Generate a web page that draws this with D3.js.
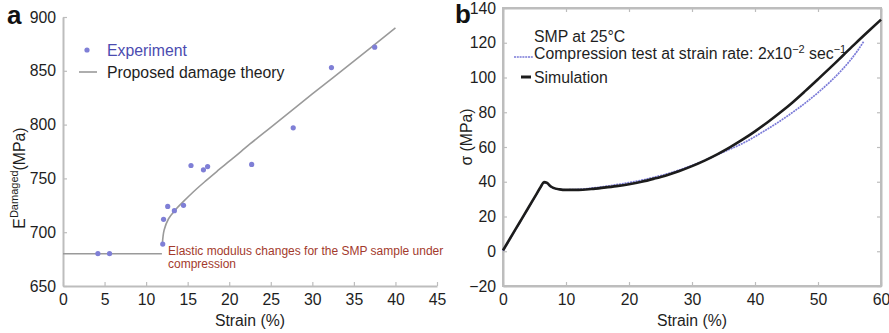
<!DOCTYPE html>
<html>
<head>
<meta charset="utf-8">
<script src="https://cdn.jsdelivr.net/npm/d3@7"></script>
<style>
  html, body { margin: 0; padding: 0; background: #fff; }
  svg { display: block; font-family: "Liberation Sans", Arial, Helvetica, sans-serif; }
</style>
</head>
<body>
<svg id="chart" width="889" height="333"></svg>
<script>
// ---- Panel a: damaged elastic modulus vs strain ----
const expStrain  = [4.2, 5.6, 12.0, 12.1, 12.6, 13.4, 14.5, 15.4, 16.9, 17.4, 22.7, 27.7, 32.3, 37.5];
const expModulus = [680, 680, 689, 712, 724, 720, 725, 762, 758, 761, 763, 797, 853, 872];

// proposed damage theory: flat elastic branch, then the damage branch
const theoryFlatStrain  = [0, 11.9];
const theoryFlatModulus = [680, 680];
const theoryDamageStrain  = [11.96, 12.17, 12.7, 13.5, 14.5, 15.7, 17.1, 18.5, 20.5, 22.5, 25, 30, 35, 40];
const theoryDamageModulus = [689.7, 702, 712.5, 720.6, 728.6, 737.6, 747.2, 756.4, 769, 782, 797.5, 828.5, 859, 890];

const aXTicks = [0, 5, 10, 15, 20, 25, 30, 35, 40, 45];
const aYTicks = [650, 700, 750, 800, 850, 900];

// ---- Panel b: stress-strain response of SMP at 25 °C ----
const simStrain = [0, 1, 2, 3, 4, 5, 6, 6.5, 7, 7.5, 8, 9, 10, 12, 14, 16, 18, 20, 22, 24, 26, 28, 30,
                   32, 34, 36, 38, 40, 42, 44, 46, 48, 50, 52, 54, 56, 58, 60];
const simStress = [0.5, 6.6, 12.7, 18.8, 24.9, 31.0, 37.1, 39.8, 39.3, 37.6, 36.5, 35.6, 35.3, 35.3, 35.8,
                   36.6, 37.5, 38.6, 40.0, 41.8, 43.8, 46.2, 49.0, 52.2, 55.8, 59.8, 64.2, 69.0, 74.2,
                   79.8, 85.8, 92.3, 99.0, 105.8, 112.8, 119.8, 126.6, 133.3];

const testStrain = [0, 1, 2, 3, 4, 5, 6, 6.5, 7, 7.5, 8, 9, 10, 12, 14, 16, 18, 20, 22, 24, 26, 28, 30,
                    32, 34, 36, 38, 40, 42, 44, 46, 48, 50, 52, 54, 56, 57.3];
const testStress = [0.3, 6.4, 12.5, 18.6, 24.7, 30.8, 36.9, 39.5, 39.0, 37.3, 36.4, 35.6, 35.4, 35.6, 36.3,
                    37.2, 38.3, 39.5, 40.9, 42.6, 44.5, 46.8, 49.4, 52.3, 55.5, 58.7, 62.0, 66.0, 70.4,
                    75.0, 80.0, 85.4, 91.3, 97.8, 105.2, 114.0, 121.0];

const bXTicks = [0, 10, 20, 30, 40, 50, 60];
const bYTicks = [-20, 0, 20, 40, 60, 80, 100, 120, 140];

const svg = d3.select("#chart");
const axisColor = "#bdbdbd";
const textColor = "#1e1e1e";
const fontSize = 15.8;

function styleAxis(g) {
  g.select(".domain").attr("stroke", axisColor).attr("stroke-width", 2);
  g.selectAll(".tick line").attr("stroke", axisColor).attr("stroke-width", 1.2);
  g.selectAll(".tick text").attr("fill", textColor).attr("font-size", fontSize);
}

// ================= Panel a =================
const ax = d3.scaleLinear().domain([0, 45]).range([63, 437]);
const ay = d3.scaleLinear().domain([650, 900]).range([286, 17]);

svg.append("g").attr("transform", "translate(0,286)")
  .call(d3.axisBottom(ax).tickValues(aXTicks).tickSizeInner(-4).tickSizeOuter(0).tickPadding(8))
  .call(styleAxis);
svg.append("g").attr("transform", "translate(63,0)")
  .call(d3.axisLeft(ay).tickValues(aYTicks).tickSizeInner(-4).tickSizeOuter(0).tickPadding(7))
  .call(styleAxis);

const aLine = d3.line().x(d => ax(d[0])).y(d => ay(d[1])).curve(d3.curveCatmullRom.alpha(0.5));
svg.append("path")
  .datum(d3.zip(theoryFlatStrain, theoryFlatModulus))
  .attr("d", aLine).attr("fill", "none").attr("stroke", "#9a9a9a").attr("stroke-width", 1.6);
svg.append("path")
  .datum(d3.zip(theoryDamageStrain, theoryDamageModulus))
  .attr("d", aLine).attr("fill", "none").attr("stroke", "#9a9a9a").attr("stroke-width", 1.6);

svg.append("g").selectAll("circle")
  .data(d3.zip(expStrain, expModulus))
  .join("circle")
  .attr("cx", d => ax(d[0])).attr("cy", d => ay(d[1]))
  .attr("r", 2.6).attr("fill", "#7f7fd6");

// legend a
svg.append("circle").attr("cx", 87).attr("cy", 50).attr("r", 2.6).attr("fill", "#7f7fd6");
svg.append("text").attr("x", 107).attr("y", 56).attr("font-size", fontSize).attr("fill", "#4b4bb0").text("Experiment");
svg.append("line").attr("x1", 79).attr("x2", 97).attr("y1", 72).attr("y2", 72)
  .attr("stroke", "#9a9a9a").attr("stroke-width", 1.6);
svg.append("text").attr("x", 107).attr("y", 77.5).attr("font-size", fontSize).attr("fill", textColor).text("Proposed damage theory");

// annotation
const ann = svg.append("text").attr("x", 168).attr("font-size", 12).attr("fill", "#a33a2c");
ann.append("tspan").attr("x", 168).attr("y", 254.5).text("Elastic modulus changes for the SMP sample under");
ann.append("tspan").attr("x", 168).attr("y", 267.5).text("compression");

// axis titles a
svg.append("text").attr("x", ax(22.5)).attr("y", 326).attr("text-anchor", "middle")
  .attr("font-size", fontSize).attr("fill", textColor).text("Strain (%)");
const aYTitle = svg.append("text").attr("transform", "translate(25,178) rotate(-90)")
  .attr("text-anchor", "middle").attr("font-size", fontSize).attr("fill", textColor);
aYTitle.append("tspan").text("E");
aYTitle.append("tspan").attr("font-size", 11).attr("dy", -7).text("Damaged");
aYTitle.append("tspan").attr("dy", 7).text("(MPa)");

svg.append("text").attr("x", 7).attr("y", 24).attr("font-size", 26).attr("font-weight", "bold")
  .attr("fill", "#111").text("a");

// ================= Panel b =================
const bx = d3.scaleLinear().domain([0, 60]).range([503, 881]);
const by = d3.scaleLinear().domain([-20, 140]).range([286, 8]);

// frame with inward ticks on all four sides
svg.append("rect").attr("x", bx(0)).attr("y", by(140)).attr("width", bx(60) - bx(0)).attr("height", by(-20) - by(140))
  .attr("fill", "none").attr("stroke", axisColor).attr("stroke-width", 2);
svg.append("g").attr("transform", `translate(0,${by(-20)})`)
  .call(d3.axisBottom(bx).tickValues(bXTicks).tickSizeInner(-4).tickSizeOuter(0).tickPadding(8))
  .call(styleAxis);
svg.append("g").attr("transform", `translate(${bx(0)},0)`)
  .call(d3.axisLeft(by).tickValues(bYTicks).tickSizeInner(-4).tickSizeOuter(0).tickPadding(7)
        .tickFormat(d => d < 0 ? "\u2212" + Math.abs(d) : d))
  .call(styleAxis);
svg.append("g").attr("transform", `translate(0,${by(140)})`)
  .call(d3.axisTop(bx).tickValues(bXTicks).tickSizeInner(-4).tickSizeOuter(0).tickFormat(""))
  .call(styleAxis);
svg.append("g").attr("transform", `translate(${bx(60)},0)`)
  .call(d3.axisRight(by).tickValues(bYTicks).tickSizeInner(-4).tickSizeOuter(0).tickFormat(""))
  .call(styleAxis);

const bLine = d3.line().x(d => bx(d[0])).y(d => by(d[1])).curve(d3.curveMonotoneX);
svg.append("path")
  .datum(d3.zip(testStrain, testStress))
  .attr("d", bLine).attr("fill", "none").attr("stroke", "#7a7ad8").attr("stroke-width", 1.7)
  .attr("stroke-dasharray", "2,0.8");
svg.append("path")
  .datum(d3.zip(simStrain, simStress))
  .attr("d", bLine).attr("fill", "none").attr("stroke", "#1c1c1c").attr("stroke-width", 2.6);

// legend b
svg.append("text").attr("x", 534).attr("y", 41.5).attr("font-size", fontSize).attr("fill", textColor)
  .text("SMP at 25\u00B0C");
svg.append("line").attr("x1", 514).attr("x2", 533).attr("y1", 57).attr("y2", 57)
  .attr("stroke", "#7a7ad8").attr("stroke-width", 1.7).attr("stroke-dasharray", "2,0.8");
const leg2 = svg.append("text").attr("x", 534).attr("y", 59).attr("font-size", fontSize).attr("fill", textColor);
leg2.append("tspan").text("Compression test at strain rate: 2x10");
leg2.append("tspan").attr("font-size", 11).attr("dy", -6).text("\u22122");
leg2.append("tspan").attr("dy", 6).text(" sec");
leg2.append("tspan").attr("font-size", 11).attr("dy", -6).text("\u22121");
svg.append("line").attr("x1", 521).attr("x2", 531).attr("y1", 77).attr("y2", 77)
  .attr("stroke", "#1c1c1c").attr("stroke-width", 3);
svg.append("text").attr("x", 534).attr("y", 82.5).attr("font-size", fontSize).attr("fill", textColor)
  .text("Simulation");

// axis titles b
svg.append("text").attr("x", bx(30)).attr("y", 326).attr("text-anchor", "middle")
  .attr("font-size", fontSize).attr("fill", textColor).text("Strain (%)");
svg.append("text").attr("transform", "translate(472,137) rotate(-90)")
  .attr("text-anchor", "middle").attr("font-size", fontSize).attr("fill", textColor).text("\u03C3 (MPa)");

svg.append("text").attr("x", 455).attr("y", 23).attr("font-size", 26).attr("font-weight", "bold")
  .attr("fill", "#111").text("b");
</script>
</body>
</html>
